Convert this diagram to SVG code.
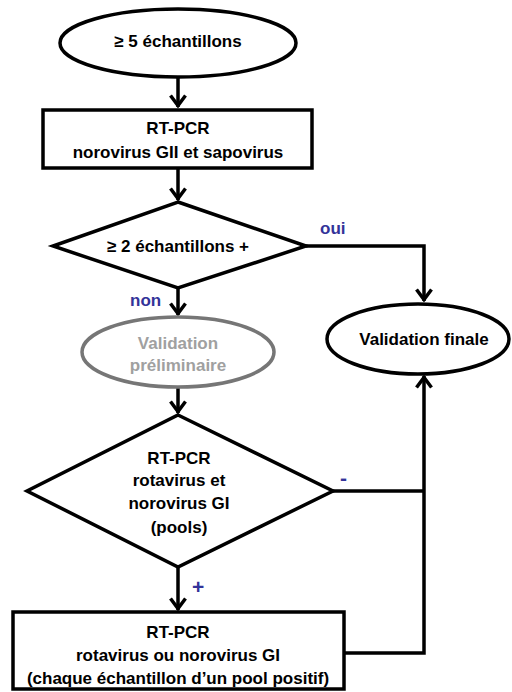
<svg xmlns="http://www.w3.org/2000/svg" width="512" height="692" viewBox="0 0 512 692">
<style>
.s{fill:#fff;stroke:#000;stroke-width:3.5}
.g{fill:#fff;stroke:#767676;stroke-width:3.5}
.t{font-family:"Liberation Sans",Arial,sans-serif;font-weight:bold;font-size:17px;text-anchor:middle;fill:#000}
.tg{fill:#a0a0a0}
.lb{font-family:"Liberation Sans",Arial,sans-serif;font-weight:bold;font-size:17px;fill:#333399}
.big{font-size:21px}
.c{fill:none;stroke:#000;stroke-width:3.5}
</style>
<defs>
<marker id="a" markerUnits="userSpaceOnUse" markerWidth="24" markerHeight="24" viewBox="-14 -12 18 24" refX="1.5" refY="0" orient="auto">
<path d="M-10,-7.5 L0,0 L-10,7.5" fill="none" stroke="#000" stroke-width="3.5"/>
</marker>
</defs>
<rect width="512" height="692" fill="#fff"/>
<g id="connectors">
<path class="c" d="M178,78 V107" marker-end="url(#a)"/>
<path class="c" d="M178,168 V200" marker-end="url(#a)"/>
<path class="c" d="M306,246 H424 V301" marker-end="url(#a)"/>
<path class="c" d="M178,288 V315" marker-end="url(#a)"/>
<path class="c" d="M178,388 V413" marker-end="url(#a)"/>
<path class="c" d="M333,491 H424"/>
<path class="c" d="M344,653 H424 V376" marker-end="url(#a)"/>
<path class="c" d="M178,568 V610" marker-end="url(#a)"/>
<text class="lb" x="320" y="234">oui</text>
<text class="lb" x="130" y="306">non</text>
<text class="lb big" x="340" y="485">-</text>
<text class="lb big" x="192" y="594">+</text>
</g>
<g id="start">
<ellipse class="s" cx="178" cy="43" rx="118" ry="34"/>
<text class="t" x="178" y="47">≥ 5 échantillons</text>
</g>
<g id="rtpcr1">
<rect class="s" x="43" y="110" width="269" height="58"/>
<text class="t" x="178" y="134">RT-PCR</text>
<text class="t" x="178" y="158">norovirus GII et sapovirus</text>
</g>
<g id="decision1">
<polygon class="s" points="178,202 306,246 178,288 53,246"/>
<text class="t" x="178" y="252">≥ 2 échantillons +</text>
</g>
<g id="prelim">
<ellipse class="g" cx="178" cy="352" rx="96" ry="35"/>
<text class="t tg" x="178" y="349">Validation</text>
<text class="t tg" x="178" y="371">préliminaire</text>
</g>
<g id="final">
<ellipse class="s" cx="418" cy="339" rx="91" ry="35"/>
<text class="t" x="424" y="345">Validation finale</text>
</g>
<g id="decision2">
<polygon class="s" points="178,415 333,491 178,567 27,491"/>
<text class="t" x="179" y="464">RT-PCR</text>
<text class="t" x="179" y="486">rotavirus et</text>
<text class="t" x="179" y="509">norovirus GI</text>
<text class="t" x="179" y="533">(pools)</text>
</g>
<g id="rtpcr2">
<rect class="s" x="13" y="612" width="331" height="77"/>
<text class="t" x="178" y="638">RT-PCR</text>
<text class="t" x="178" y="661">rotavirus ou norovirus GI</text>
<text class="t" x="178" y="684">(chaque échantillon d’un pool positif)</text>
</g>
</svg>
